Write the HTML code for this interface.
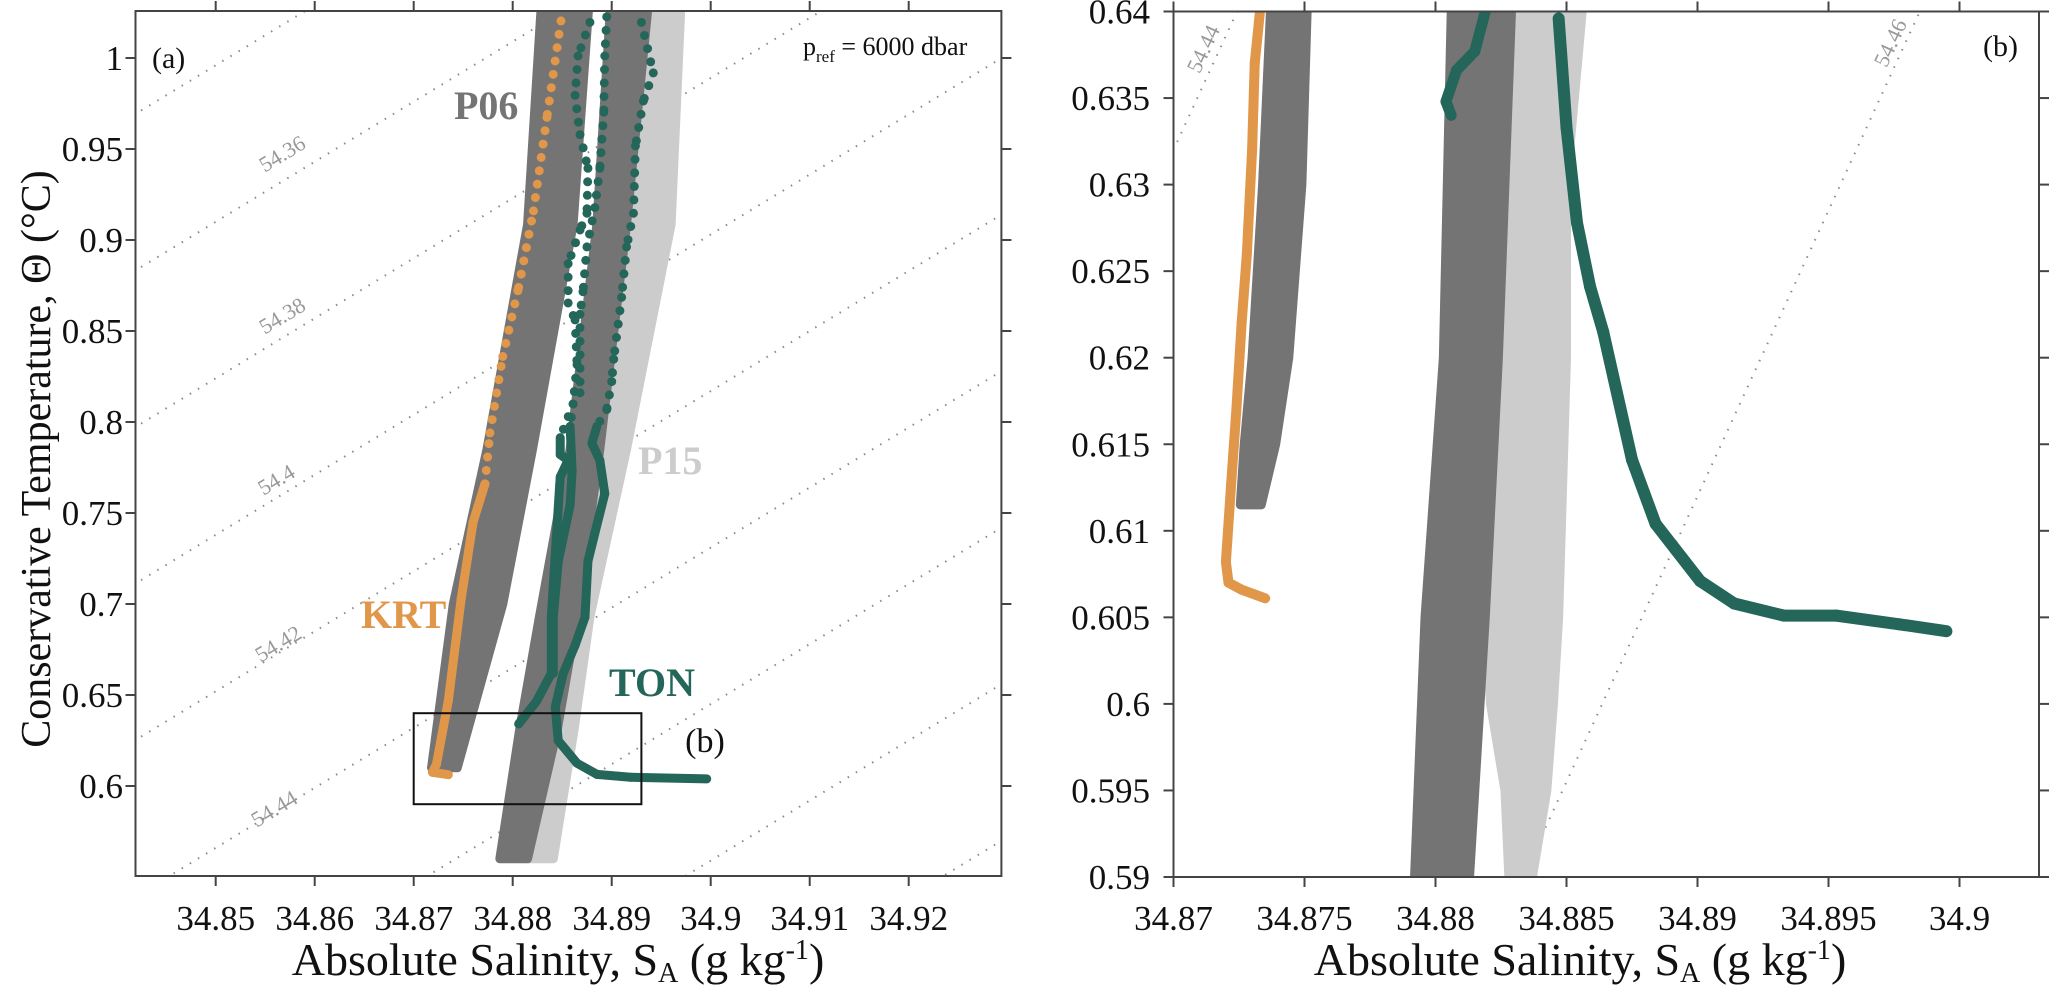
<!DOCTYPE html>
<html><head><meta charset="utf-8"><style>
html,body{margin:0;padding:0;background:#fff;overflow:hidden;width:2067px;height:1000px;}
svg{display:block;}
text{font-family:"Liberation Serif","Times New Roman",serif;}
</style></head><body>
<svg id="fig" width="2067" height="1000" viewBox="0 0 2067 1000" xmlns="http://www.w3.org/2000/svg" font-family="Liberation Serif, serif">
<defs>
<clipPath id="clipL"><rect x="135.5" y="11" width="865.9" height="865"/></clipPath>
<clipPath id="clipR"><rect x="1173.5" y="11.5" width="865.5" height="865.5"/></clipPath>
</defs>
<g id="panelA"></g>
<g id="panelB"></g>
</svg>
<script>
// ---------------- DATA ----------------
const p06wT  = [0.61, 0.70, 0.785, 0.9085, 1.03];
const p06wS  = [34.8731, 34.8765, 34.8797, 34.8838, 34.8853];
const p06wHW = [0.0013, 0.0025, 0.0023, 0.0023, 0.0024];
const p06eT  = [0.56, 0.631, 0.693, 0.785, 0.9085, 1.03];
const p06eS  = [34.8801, 34.8826, 34.8846, 34.8873, 34.8900, 34.8918];
const p06eHW = [0.0014, 0.0019, 0.0019, 0.0015, 0.0015, 0.0019];
const p15aT  = [0.56, 0.631, 0.693, 0.785, 0.9085, 1.03];
const p15aS  = [34.8828, 34.8844, 34.8862, 34.8894, 34.8930, 34.8944];
const p15aHW = [0.0013, 0.0018, 0.0016, 0.0021, 0.0030, 0.0026];
const krtAS = [34.8735,34.8719,34.8723,34.8735,34.8748,34.8760,34.8772,34.8777,34.8790,34.8806,34.8821,34.8835,34.8850];
const krtAT = [0.6062,0.6075,0.612,0.647,0.703,0.745,0.766,0.794,0.836,0.874,0.916,0.969,1.025];
const tonRS = [34.8930,34.8942,34.8932,34.8924,34.8922,34.8915,34.8910,34.8902,34.8900,34.8895,34.8885,34.8880,34.8888,34.8893,34.8883,34.8876,34.8873,34.8863,34.8851,34.8843,34.8846,34.8865,34.8885,34.8919,34.8996];
const tonRT = [1.0196,0.9918,0.9764,0.9517,0.9147,0.8962,0.8685,0.8345,0.8222,0.8068,0.7976,0.7883,0.7790,0.7606,0.7390,0.7235,0.6927,0.6773,0.6619,0.6434,0.6249,0.6125,0.6064,0.6048,0.6039];
const tonLS = [34.8878,34.8866,34.8863,34.8868,34.8876,34.8875,34.8868,34.8856,34.8856,34.8863,34.8865,34.8861,34.8848,34.8848,34.8856,34.8848,34.8844,34.8839,34.8839,34.8824,34.8806];
const tonLT = [1.0196,1.0011,0.9795,0.9579,0.9394,0.9147,0.9055,0.8870,0.8654,0.8561,0.8315,0.8099,0.7914,0.7821,0.7790,0.7698,0.7359,0.6927,0.6619,0.6465,0.6341];
const tonMS = [34.8895,34.8893,34.8892,34.8888,34.8883,34.8875,34.8871,34.8868,34.8868,34.8861,34.8858,34.8860,34.8858,34.8846,34.8841,34.8841];
const tonMT = [1.0226,1.0011,0.9702,0.9394,0.9178,0.8962,0.8716,0.8592,0.8161,0.8099,0.7976,0.7729,0.7544,0.7235,0.6927,0.6619];
const krtBS = [34.8733,34.8731,34.8730,34.8728,34.8726,34.8724,34.8722,34.8720,34.8721,34.8726,34.8735];
const krtBT = [0.640,0.637,0.632,0.626,0.622,0.617,0.6127,0.6082,0.607,0.6066,0.6061];
const p06bwT  = [0.6115, 0.615, 0.62, 0.63, 0.64];
const p06bwS  = [34.87295, 34.8733, 34.8737, 34.87415, 34.8744];
const p06bwHW = [0.0004, 0.0006, 0.0007, 0.00075, 0.0007];
const p06bmT  = [0.59, 0.605, 0.62, 0.64];
const p06bmS  = [34.88025, 34.88075, 34.88135, 34.88175];
const p06bmHW = [0.00105, 0.00115, 0.00105, 0.00115];
const p15bT  = [0.59, 0.595, 0.60, 0.605, 0.62, 0.63, 0.64];
const p15bS  = [34.88325, 34.88345, 34.8833, 34.8833, 34.88355, 34.8838, 34.8843];
const p15bHW = [0.00045, 0.0008, 0.0012, 0.0014, 0.00145, 0.0012, 0.0013];
const tonBS = [34.8847,34.8850,34.8854,34.8859,34.8864,34.8875,34.8884,34.8901,34.8914,34.8933,34.8953,34.8977,34.8995];
const tonBT = [0.6396,0.6333,0.6278,0.6241,0.6215,0.6141,0.6104,0.6071,0.6058,0.6051,0.6051,0.6046,0.6042];
const tonHookS = [34.8819,34.8815,34.8808,34.8804,34.8806];
const tonHookT = [0.6400,0.6377,0.6366,0.6348,0.6340];
const xTicksA = [34.85,34.86,34.87,34.88,34.89,34.90,34.91,34.92];
const xTickLabelsA = ["34.85","34.86","34.87","34.88","34.89","34.9","34.91","34.92"];
const yTicksA = [0.6,0.65,0.7,0.75,0.8,0.85,0.9,0.95,1.0];
const yTickLabelsA = ["0.6","0.65","0.7","0.75","0.8","0.85","0.9","0.95","1"];
const xTicksB = [34.87,34.875,34.88,34.885,34.89,34.895,34.90];
const xTickLabelsB = ["34.87","34.875","34.88","34.885","34.89","34.895","34.9"];
const yTicksB = [0.59,0.595,0.6,0.605,0.61,0.615,0.62,0.625,0.63,0.635,0.64];
const yTickLabelsB = ["0.59","0.595","0.6","0.605","0.61","0.615","0.62","0.625","0.63","0.635","0.64"];
const sigmaLevels = [54.28,54.30,54.32,54.34,54.36,54.38,54.40,54.42,54.44,54.46,54.48,54.50,54.52];

// ---------------- SCALES ----------------
const xA = s => 215.7 + (s - 34.85) * 9900;
const yA = t => 58 + (1 - t) * 1820;
const xB = s => 1173.5 + (s - 34.87) * 26200;
const yB = t => 11.5 + (0.64 - t) * 17310;
const boxA = {x0:135.5, x1:1001.4, y0:11, y1:876};
const boxB = {x0:1173.5, x1:2039, y0:11.5, y1:877};
const sigT = (sig, s) => 0.632 - (sig - 54.44) * 4.3 + 3.3 * (s - 34.87);

const NS = "http://www.w3.org/2000/svg";
const FONT = "Liberation Serif, serif";
function mk(tag, attrs, parent){ const e=document.createElementNS(NS,tag); for(const k in attrs) e.setAttribute(k,attrs[k]); parent.appendChild(e); return e; }
const C = {krt:"#E0974A", p06:"#747474", p15:"#CCCCCC", ton:"#24665A"};

function drawBand(g, T, S, HW, xs, ys, color, name){
  let pts=[];
  for(let i=0;i<T.length;i++) pts.push(xs(S[i]-HW[i])+","+ys(T[i]));
  for(let i=T.length-1;i>=0;i--) pts.push(xs(S[i]+HW[i])+","+ys(T[i]));
  const p = mk("polygon",{points:pts.join(" "),fill:color,stroke:color,"stroke-width":9,"stroke-linejoin":"round"},g);
  
  
}
function drawProfile(g, S, T, xs, ys, color, w, dotAbove, name){
  const grp = mk("g",{},g);
  
  
  for(let i=0;i<S.length-1;i++){
    const dotted = dotAbove!==null && (T[i]>dotAbove || T[i+1]>dotAbove);
    const a={x1:xs(S[i]),y1:ys(T[i]),x2:xs(S[i+1]),y2:ys(T[i+1]),stroke:color,"stroke-width":w,"stroke-linecap":"round"};
    if(dotted) a["stroke-dasharray"]="0 "+(w*1.5);
    mk("line",a,grp);
  }
}
function drawSigma(g, xs, ys, box, sMin, sMax){
  for(const sig of sigmaLevels){
    const l = mk("line",{x1:xs(sMin),y1:ys(sigT(sig,sMin)),x2:xs(sMax),y2:ys(sigT(sig,sMax)),stroke:"#8a8a8a","stroke-width":2,"stroke-dasharray":"1.5 8"},g);
    
    
  }
}
function label(g, x, y, txt, attrs, name){
  const t = mk("text",Object.assign({x:x,y:y,"font-family":FONT},attrs),g);
  t.textContent = txt;
  
  
  return t;
}
function drawAxes(g, box, xs, ys, xT, xL, yT, yL, yLabelX){
  const fr = mk("rect",{x:box.x0,y:box.y0,width:box.x1-box.x0,height:box.y1-box.y0,fill:"none",stroke:"#444","stroke-width":2},g);
  
  
  xT.forEach((v,i)=>{
    const x=xs(v);
    mk("line",{x1:x,y1:box.y1,x2:x,y2:box.y1+10,stroke:"#444","stroke-width":2},g);
    mk("line",{x1:x,y1:box.y0,x2:x,y2:box.y0-10,stroke:"#444","stroke-width":2},g);
    label(g,x,930,xL[i],{"text-anchor":"middle","font-size":35,fill:"#111"},'x-tick-label');
  });
  yT.forEach((v,i)=>{
    const y=ys(v);
    mk("line",{x1:box.x0,y1:y,x2:box.x0-10,y2:y,stroke:"#444","stroke-width":2},g);
    mk("line",{x1:box.x1,y1:y,x2:box.x1+10,y2:y,stroke:"#444","stroke-width":2},g);
    label(g,yLabelX,y+12,yL[i],{"text-anchor":"end","font-size":35,fill:"#111"},'y-tick-label');
  });
}
const titleHTML = 'Absolute Salinity, S<tspan font-size="28" dy="7">A</tspan><tspan dy="-7"> (g kg</tspan><tspan font-size="28" dy="-16">-1</tspan><tspan dy="16">)</tspan>';

// ---------------- PANEL A ----------------
const gA = document.getElementById("panelA");
const cA = mk("g",{"clip-path":"url(#clipL)"},gA);
drawSigma(cA, xA, yA, boxA, 34.84, 34.93);
[["54.36",286,160],["54.38",286,322],["54.4",280,486],["54.42",282,650],["54.44",278,815]].forEach(d=>{
  label(cA,d[1],d[2],d[0],{"text-anchor":"middle","font-size":22,fill:"#999","font-family":"Liberation Sans, sans-serif",transform:"rotate(-31 "+d[1]+" "+d[2]+")"},'isopycnal-label');
});
drawBand(cA,p15aT,p15aS,p15aHW,xA,yA,C.p15,'p15-band');
drawBand(cA,p06wT,p06wS,p06wHW,xA,yA,C.p06,'p06-band-west');
drawBand(cA,p06eT,p06eS,p06eHW,xA,yA,C.p06,'p06-band-east');
drawProfile(cA,krtAS,krtAT,xA,yA,C.krt,9,0.77,'krt-profile');
drawProfile(cA,tonMS,tonMT,xA,yA,C.ton,9,0.80,'ton-profile-middle');
drawProfile(cA,tonLS,tonLT,xA,yA,C.ton,9,0.80,'ton-profile-left');
drawProfile(cA,tonRS,tonRT,xA,yA,C.ton,9,0.80,'ton-profile-right');
const zr = mk("rect",{x:xA(34.87),y:yA(0.64),width:xA(34.893)-xA(34.87),height:yA(0.59)-yA(0.64),fill:"none",stroke:"#111","stroke-width":2},gA);


label(gA,705,752,"(b)",{"text-anchor":"middle","font-size":34,fill:"#111"},'zoom-box-label');
drawAxes(gA,boxA,xA,yA,xTicksA,xTickLabelsA,yTicksA,yTickLabelsA,123);
label(gA,152,68,"(a)",{"font-size":30,fill:"#111"},'panel-a-label');
label(gA,454,119,"P06",{"font-size":40,"font-weight":"bold",fill:C.p06},'p06-label');
label(gA,638,474,"P15",{"font-size":40,"font-weight":"bold",fill:C.p15},'p15-label');
label(gA,361,628,"KRT",{"font-size":40,"font-weight":"bold",fill:C.krt},'krt-label');
label(gA,609,696,"TON",{"font-size":40,"font-weight":"bold",fill:C.ton},'ton-label');
const pr = label(gA,803,55,"",{"font-size":26,fill:"#111"},'pref-annotation');
pr.innerHTML = 'p<tspan font-size="17" dy="7">ref</tspan><tspan dy="-7"> = 6000 dbar</tspan>';
label(gA,50,459,"Conservative Temperature, Θ (°C)",{"text-anchor":"middle","font-size":42,fill:"#111",transform:"rotate(-90 50 459)"},'y-axis-title');
const xtA = label(gA,558,975,"",{"text-anchor":"middle","font-size":46,fill:"#111"},'x-axis-title-a');
xtA.innerHTML = titleHTML;

// ---------------- PANEL B ----------------
const gB = document.getElementById("panelB");
const cB = mk("g",{"clip-path":"url(#clipR)"},gB);
drawSigma(cB, xB, yB, boxB, 34.865, 34.905);
label(cB,1210,52,"54.44",{"text-anchor":"middle","font-size":22,fill:"#999","font-family":"Liberation Sans, sans-serif",transform:"rotate(-65 1210 52)"},'isopycnal-label');
label(cB,1897,46,"54.46",{"text-anchor":"middle","font-size":22,fill:"#999","font-family":"Liberation Sans, sans-serif",transform:"rotate(-65 1897 46)"},'isopycnal-label');
drawBand(cB,p15bT,p15bS,p15bHW,xB,yB,C.p15,'p15-band');
drawBand(cB,p06bmT,p06bmS,p06bmHW,xB,yB,C.p06,'p06-band-main');
drawBand(cB,p06bwT,p06bwS,p06bwHW,xB,yB,C.p06,'p06-band-west');
drawProfile(cB,krtBS,krtBT,xB,yB,C.krt,10,null,'krt-profile');
drawProfile(cB,tonHookS,tonHookT,xB,yB,C.ton,11,null,'ton-profile-hook');
drawProfile(cB,tonBS,tonBT,xB,yB,C.ton,12,null,'ton-profile');
drawAxes(gB,boxB,xB,yB,xTicksB,xTickLabelsB,yTicksB,yTickLabelsB,1150);
label(gB,1983,56,"(b)",{"font-size":30,fill:"#111"},'panel-b-label');
const xtB = label(gB,1580,975,"",{"text-anchor":"middle","font-size":46,fill:"#111"},'x-axis-title-b');
xtB.innerHTML = titleHTML;
</script>
</body></html>
